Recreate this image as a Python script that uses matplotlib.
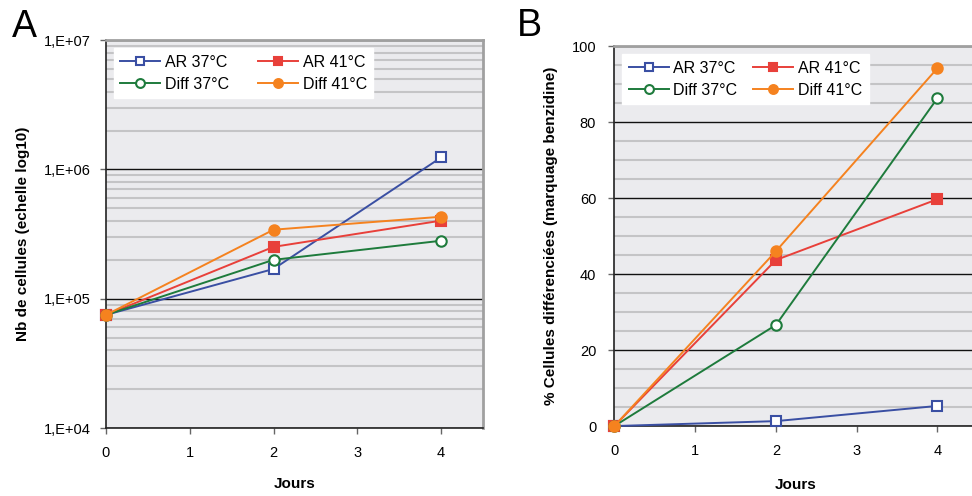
import numpy as np
import matplotlib
matplotlib.use("Agg")
import matplotlib.pyplot as plt
from matplotlib.ticker import FixedLocator, MultipleLocator, LogLocator, NullFormatter

# data
jours = [0, 2, 4]
series = ["AR 37°C", "AR 41°C", "Diff 37°C", "Diff 41°C"]
cells_ar37 = [75000, 170000, 1240000]
cells_ar41 = [75000, 252000, 402000]
cells_diff37 = [75000, 200000, 281000]
cells_diff41 = [75000, 342000, 431000]
pct_ar37 = [0, 1.3, 5.3]
pct_ar41 = [0, 43.7, 59.7]
pct_diff37 = [0, 26.6, 86.3]
pct_diff41 = [0, 46.0, 94.2]
log_ticks = [1e4, 1e5, 1e6, 1e7]
log_labels = ["1,E+04", "1,E+05", "1,E+06", "1,E+07"]

colors = ["#3a4fa3", "#e8403a", "#1e7b3c", "#f5821f"]
markers = ["s", "s", "o", "o"]
filled = [False, True, False, True]

plt.rcParams["font.family"] = "Liberation Sans"
fig = plt.figure(figsize=(9.72, 4.96), dpi=100)
axA = fig.add_axes([0.109, 0.137, 0.388, 0.782])
axB = fig.add_axes([0.632, 0.141, 0.374, 0.766])


def style(ax):
    ax.set_facecolor("#ebebee")
    for s in ["top", "right"]:
        ax.spines[s].set_color("#a0a0a0")
        ax.spines[s].set_linewidth(2)
    for s in ["left", "bottom"]:
        ax.spines[s].set_color("#222222")
        ax.spines[s].set_linewidth(1.2)
    ax.set_axisbelow(True)
    ax.grid(which="major", axis="y", color="#111111", lw=1)
    ax.grid(which="minor", axis="y", color="#c4c4c6", lw=1.5)
    ax.set_xlim(0, 4.5)
    ax.set_xticks([0, 1, 2, 3, 4])
    ax.tick_params(axis="both", which="major", direction="out", length=4,
                   width=1, color="#666666", labelsize=10.5, pad=9)
    ax.tick_params(axis="y", which="minor", length=0)


def draw(ax, data, colsp):
    lines = []
    for name, vals, c, m, f in zip(series, data, colors, markers, filled):
        ln, = ax.plot(jours, vals, color=c, lw=1.4, marker=m, ms=7.5,
                      markerfacecolor=c if f else "white", markeredgecolor=c,
                      markeredgewidth=1.5, label=name, clip_on=False, zorder=3)
        lines.append(ln)
    # row-wise order: AR 37, AR 41 / Diff 37, Diff 41
    order = [0, 2, 1, 3]
    leg = ax.legend([lines[i] for i in order], [series[i] for i in order],
                    ncol=2, loc="upper left", fontsize=11.5, frameon=True,
                    fancybox=False, handlelength=2.5, columnspacing=colsp,
                    borderaxespad=0.5, handletextpad=0.3, labelspacing=0.45,
                    markerscale=0.85)
    leg.get_frame().set_facecolor("white")
    leg.get_frame().set_edgecolor("white")
    leg.get_frame().set_alpha(1)


# panel A
style(axA)
axA.set_yscale("log")
axA.set_ylim(1e4, 1e7)
axA.yaxis.set_major_locator(FixedLocator(log_ticks))
axA.set_yticklabels(log_labels)
axA.yaxis.set_minor_locator(LogLocator(base=10, subs=np.arange(2, 10)))
axA.yaxis.set_minor_formatter(NullFormatter())
axA.tick_params(axis="y", which="major", pad=7)
draw(axA, [cells_ar37, cells_ar41, cells_diff37, cells_diff41], 1.8)
axA.set_ylabel("Nb de cellules (echelle log10)", fontsize=11,
               fontweight="bold", labelpad=10)
axA.set_xlabel("Jours", fontsize=11, fontweight="bold", labelpad=12)

# panel B
style(axB)
axB.set_ylim(0, 100)
axB.yaxis.set_major_locator(MultipleLocator(20))
axB.yaxis.set_minor_locator(MultipleLocator(5))
draw(axB, [pct_ar37, pct_ar41, pct_diff37, pct_diff41], 1.0)
axB.set_ylabel("% Cellules différenciées (marquage benzidine)", fontsize=11,
               fontweight="bold", labelpad=10)
axB.set_xlabel("Jours", fontsize=11, fontweight="bold", labelpad=14)

fig.text(0.012, 0.925, "A", fontsize=27)
fig.text(0.532, 0.928, "B", fontsize=27)

fig.savefig("out.png", dpi=100)
